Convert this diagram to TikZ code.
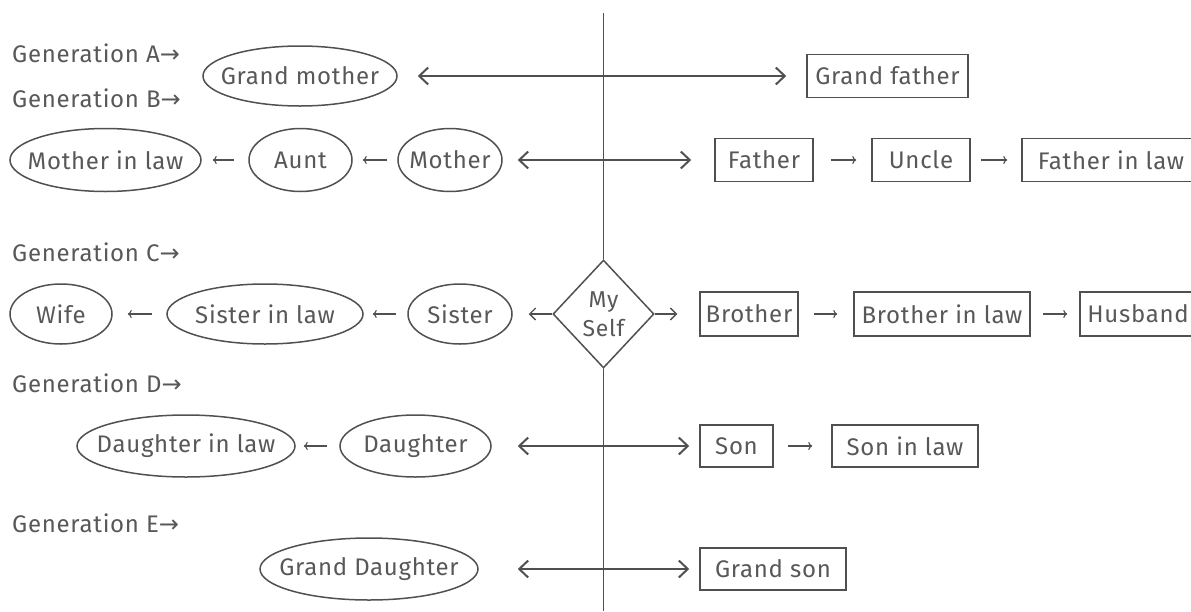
\documentclass[tikz,border=0pt]{standalone}
\usepackage{fontspec}
\setmainfont{Fira Sans}[LetterSpace=3]
\newfontfamily\arrfont{DejaVu Sans}
\usetikzlibrary{shapes.geometric,arrows.meta}
\definecolor{ink}{HTML}{505050}
\definecolor{txt}{HTML}{585858}
\newcommand{\garr}{{\arrfont →}}
\newcommand{\tight}[1]{\makebox[0pt]{#1}}
\tikzset{
  base/.style={draw=ink,line width=1.5pt,text=txt,inner sep=0pt,font=\fontsize{24}{27}\selectfont},
  oval/.style={base,ellipse},
  box/.style={base,rectangle},
  dia/.style={base,diamond,align=center,font=\fontsize{23}{24}\selectfont},
  genlabel/.style={text=txt,inner sep=0pt,anchor=west,font=\fontsize{24}{27}\selectfont},
  bigarr/.style={draw=ink,line width=2.2pt,{Straight Barb[length=9pt,width=17pt,line width=2pt]}-{Straight Barb[length=9pt,width=17pt,line width=2pt]}},
  onearr/.style={draw=ink,line width=1.3pt,-{Straight Barb[length=6pt,width=12pt,line width=1.3pt]}},
  sarr/.style={draw=ink,line width=1.1pt,-{To[length=4pt,width=8pt]}},
  axis/.style={draw=ink,line width=1.8pt}
}
\begin{document}
\begin{tikzpicture}[x=1pt,y=-1pt]
\useasboundingbox (0,0) rectangle (1191,611);
% generation labels
\node[genlabel] (ga) at (12,53) {Generation A\garr};
\node[genlabel] (gb) at (12,98) {Generation B\garr};
\node[genlabel] (gc) at (12,252) {Generation C\garr};
\node[genlabel] (gdl) at (12,383) {Generation D\garr};
\node[genlabel] (ge) at (12,523) {Generation E\garr};
% row 1
\node[oval,minimum width=194pt,minimum height=60pt] (gm) at (300,76) {\tight{Grand mother}};
\node[box,minimum width=161pt,minimum height=43pt] (gf) at (887.5,76) {Grand father};
% row 2
\node[oval,minimum width=191pt,minimum height=63pt] (mil) at (105.5,160) {\tight{Mother in law}};
\node[oval,minimum width=103pt,minimum height=63pt] (aunt) at (300.5,160) {\tight{Aunt}};
\node[oval,minimum width=104pt,minimum height=63pt] (mother) at (450,160) {\tight{Mother}};
\node[box,minimum width=98pt,minimum height=43pt] (father) at (764,160) {Father};
\node[box,minimum width=98pt,minimum height=43pt] (uncle) at (921,160) {Uncle};
\node[box,minimum width=178pt,minimum height=43pt] (fil) at (1111,160) {Father in law};
% row 3
\node[oval,minimum width=102pt,minimum height=60pt] (wife) at (61,314) {\tight{Wife}};
\node[oval,minimum width=196pt,minimum height=60pt] (sil) at (265,314) {\tight{Sister in law}};
\node[oval,minimum width=104pt,minimum height=60pt] (sister) at (460,314) {\tight{Sister}};
\node[dia,minimum width=101pt,minimum height=108pt] (me) at (603.5,314) {My\\[5pt]Self};
\node[box,minimum width=98pt,minimum height=44pt] (brother) at (749,314) {Brother};
\node[box,minimum width=176pt,minimum height=44pt] (bil) at (942,314) {Brother in law};
\node[box,minimum width=116pt,minimum height=44pt] (husband) at (1138,314) {Husband};
% row 4
\node[oval,minimum width=218pt,minimum height=62pt] (dil) at (186,446) {\tight{Daughter in law}};
\node[oval,minimum width=151pt,minimum height=62pt] (daughter) at (415.5,446) {\tight{Daughter}};
\node[box,minimum width=73pt,minimum height=42pt] (son) at (736.5,446) {Son};
\node[box,minimum width=146pt,minimum height=42pt] (sonil) at (905,446) {Son in law};
% row 5
\node[oval,minimum width=218pt,minimum height=62pt] (gdau) at (369,569) {\tight{Grand Daughter}};
\node[box,minimum width=146pt,minimum height=42pt] (gson) at (773,569) {Grand son};
% vertical axis
\coordinate (top) at (603.5,13);
\coordinate (bottom) at (603.5,611);
\draw[axis] (top) -- (me.north);
\draw[axis] (me.south) -- (bottom);
% big double arrows
\draw[bigarr,shorten <=20pt,shorten >=20pt] (gm) -- (gf);
\draw[bigarr,shorten <=15pt,shorten >=23pt] (mother) -- (father);
\draw[bigarr,shorten <=26pt,shorten >=10pt] (daughter) -- (son);
\draw[bigarr,shorten <=39pt,shorten >=10pt] (gdau) -- (gson);
% myself arrows
\draw[onearr,shorten >=16pt] (me.west) -- (sister);
\draw[onearr,shorten >=22pt] (me.east) -- (brother);
% small arrows
\draw[sarr,shorten <=14pt,shorten >=11pt] (aunt) -- (mil);
\draw[sarr,shorten <=10pt,shorten >=10pt] (mother) -- (aunt);
\draw[sarr,shorten <=17pt,shorten >=15pt] (father) -- (uncle);
\draw[sarr,shorten <=10pt,shorten >=14pt] (uncle) -- (fil);
\draw[sarr,shorten <=14pt,shorten >=15pt] (sil) -- (wife);
\draw[sarr,shorten <=11pt,shorten >=9pt] (sister) -- (sil);
\draw[sarr,shorten <=15pt,shorten >=16pt] (brother) -- (bil);
\draw[sarr,shorten <=12pt,shorten >=12pt] (bil) -- (husband);
\draw[sarr,shorten <=12pt,shorten >=8pt] (daughter) -- (dil);
\draw[sarr,shorten <=14pt,shorten >=19pt] (son) -- (sonil);
\end{tikzpicture}
\end{document}
